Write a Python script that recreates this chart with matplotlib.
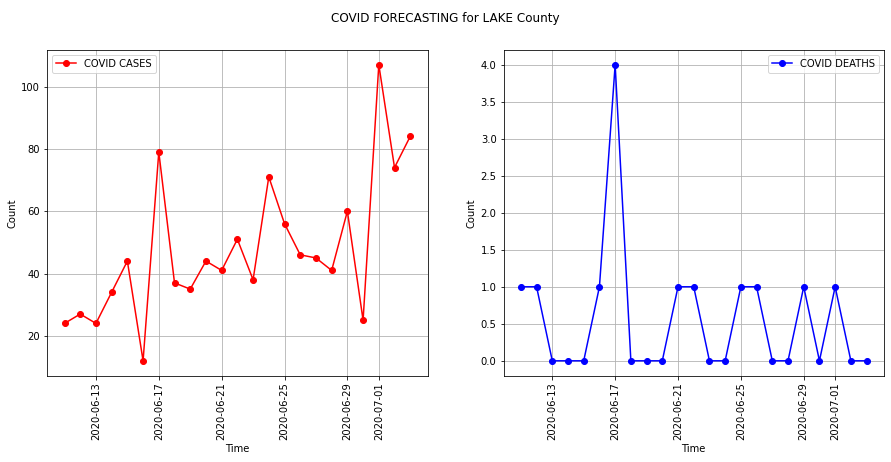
import numpy as np
import pandas as pd
import matplotlib
matplotlib.use('Agg')
import matplotlib.pyplot as plt

# daily values, 2020-06-11 .. 2020-07-03
dates = pd.date_range('2020-06-11', '2020-07-03', freq='D')
cases = [24, 27, 24, 34, 44, 12, 79, 37, 35, 44, 41, 51, 38, 71, 56, 46, 45, 41, 60, 25, 107, 74, 84]
deaths = [1, 1, 0, 0, 0, 1, 4, 0, 0, 0, 1, 1, 0, 0, 1, 1, 0, 0, 1, 0, 1, 0, 0]
county = 'LAKE'


def main():
    fig, axes = plt.subplots(nrows=1, ncols=2, figsize=(891 / 72, 462 / 72), dpi=72)

    axes[0].plot(dates, cases, 'r-o', label='COVID CASES')
    axes[0].legend(loc='upper left')

    axes[1].plot(dates, deaths, 'b-o', label='COVID DEATHS')
    axes[1].legend(loc='upper right')

    for ax in axes:
        ax.set_xlabel('Time')
        ax.set_ylabel('Count')
        ax.grid(True)
        ax.tick_params(axis='x', labelrotation=90)

    fig.suptitle('COVID FORECASTING for %s County' % county, y=0.975)
    fig.subplots_adjust(left=0.053, right=0.992, bottom=0.187, top=0.892, wspace=0.2)
    fig.savefig('out.png', dpi=72)


main()
